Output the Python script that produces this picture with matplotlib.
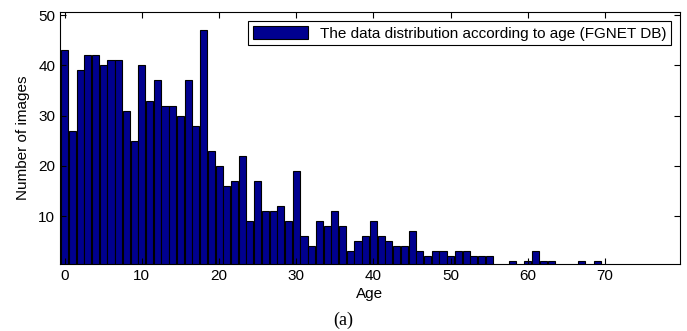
import matplotlib
matplotlib.use("Agg")
import matplotlib.pyplot as plt
import numpy as np

# Кількість зображень для кожного віку (FGNET), 0..69 років
ages = np.arange(0, 70)
counts = [43, 27, 39, 42, 42, 40, 41, 41, 31, 25,
          40, 33, 37, 32, 32, 30, 37, 28, 47, 23,
          20, 16, 17, 22, 9, 17, 11, 11, 12, 9,
          19, 6, 4, 9, 8, 11, 8, 3, 5, 6,
          9, 6, 5, 4, 4, 7, 3, 2, 3, 3,
          2, 3, 3, 2, 2, 2, 0, 0, 1, 0,
          1, 3, 1, 1, 0, 0, 0, 1, 0, 1]
x_ticks = [0, 10, 20, 30, 40, 50, 60, 70]
y_ticks = [10, 20, 30, 40, 50]

plt.rcParams['font.family'] = ['Liberation Sans', 'DejaVu Sans']

fig = plt.figure(figsize=(6.87, 3.31), dpi=100)
ax = fig.add_axes([60 / 687, 1 - 264 / 331, 620 / 687, 252 / 331])

ax.bar(ages, counts, width=0.92, color='#00008f', edgecolor='black',
       linewidth=0.8, label='The data distribution according to age (FGNET DB)')

ax.set_xlim(-0.6, 79.7)
ax.set_ylim(0.5, 50.6)
ax.set_xticks(x_ticks)
ax.set_yticks(y_ticks)
ax.tick_params(direction='in', top=True, right=True, labelsize=11, length=4)
ax.set_xlabel('Age', fontsize=11, labelpad=3)
ax.set_ylabel('Number of images', fontsize=11, labelpad=6)

leg = ax.legend(loc='upper right', fontsize=11, fancybox=False, framealpha=1,
                edgecolor='black', handlelength=3.6, handleheight=1.0,
                borderaxespad=0.6, borderpad=0.3)
leg.get_frame().set_linewidth(0.8)

fig.text(343 / 687, 1 - 320 / 331, '(a)', ha='center', va='center',
         fontsize=13, family=['Liberation Serif', 'DejaVu Serif'])

fig.savefig('out.png', dpi=100)
